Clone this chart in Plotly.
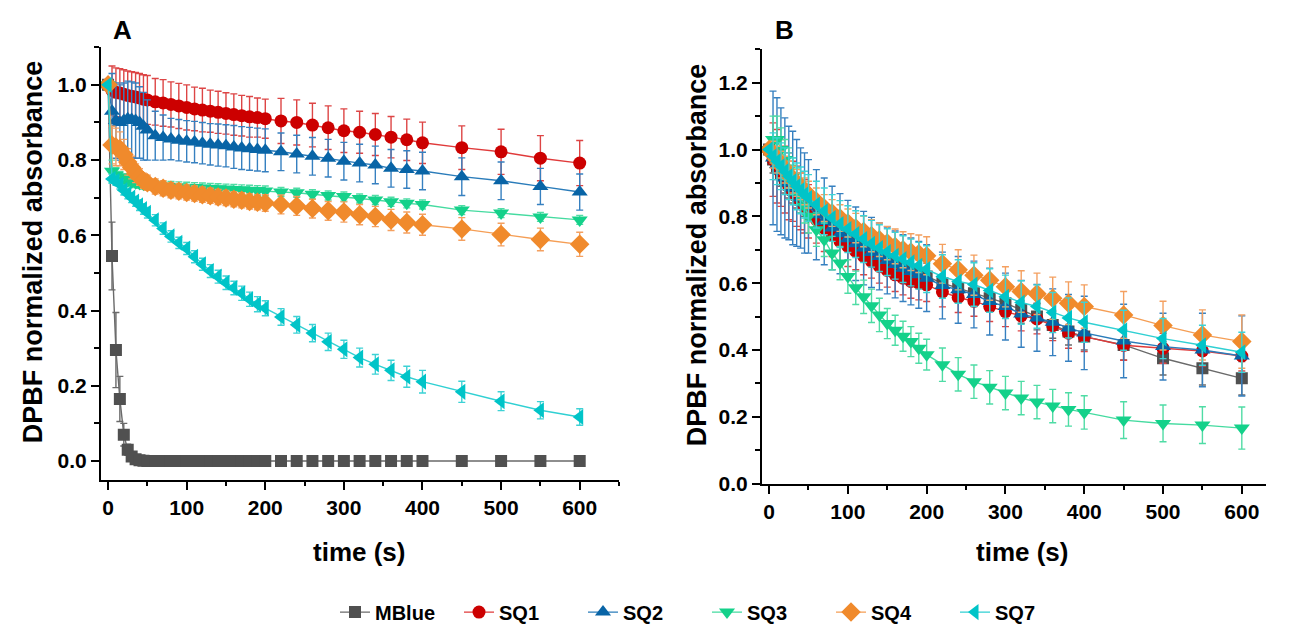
import plotly.graph_objects as go

# ---------------- data ----------------
time_s = [0, 5, 10, 15, 20, 25, 30, 35, 40, 45, 50, 60, 70, 80, 90, 100, 110, 120, 130, 140,
          150, 160, 170, 180, 190, 200, 220, 240, 260, 280, 300, 320, 340, 360, 380, 400,
          450, 500, 550, 600]

series_names = ["MBlue", "SQ1", "SQ2", "SQ3", "SQ4", "SQ7"]

# Panel A
mblue_A = [1.0, 0.545, 0.295, 0.165, 0.07, 0.03, 0.012, 0.005, 0.002, 0.001, 0.0,
           0.0, 0.0, 0.0, 0.0, 0.0, 0.0, 0.0, 0.0, 0.0, 0.0, 0.0, 0.0, 0.0, 0.0, 0.0,
           0.0, 0.0, 0.0, 0.0, 0.0, 0.0, 0.0, 0.0, 0.0, 0.0, 0.0, 0.0, 0.0, 0.0]
mblue_A_err = [0.0, 0.09, 0.1, 0.06, 0.03, 0.015, 0.006, 0.003, 0.001, 0.0, 0.0,
               0.0, 0.0, 0.0, 0.0, 0.0, 0.0, 0.0, 0.0, 0.0, 0.0, 0.0, 0.0, 0.0, 0.0, 0.0,
               0.0, 0.0, 0.0, 0.0, 0.0, 0.0, 0.0, 0.0, 0.0, 0.0, 0.0, 0.0, 0.0, 0.0]
sq1_A = [1.0, 0.985, 0.98, 0.978, 0.975, 0.972, 0.97, 0.968, 0.965, 0.962, 0.96,
         0.955, 0.952, 0.948, 0.944, 0.94, 0.936, 0.933, 0.93, 0.927, 0.924, 0.921, 0.918, 0.915, 0.913, 0.91,
         0.904, 0.9, 0.893, 0.886, 0.878, 0.874, 0.868, 0.861, 0.854, 0.846,
         0.833, 0.822, 0.805, 0.792]
sq1_A_err = [0.0, 0.065, 0.065, 0.065, 0.065, 0.065, 0.065, 0.065, 0.065, 0.065, 0.065,
             0.062, 0.062, 0.06, 0.06, 0.06, 0.058, 0.058, 0.056, 0.056, 0.055, 0.055, 0.054, 0.054, 0.052, 0.052,
             0.06, 0.06, 0.058, 0.058, 0.058, 0.056, 0.056, 0.055, 0.055, 0.055,
             0.058, 0.06, 0.06, 0.06]
sq2_A = [1.0, 0.93, 0.905, 0.9, 0.905, 0.91, 0.908, 0.905, 0.9, 0.89, 0.88,
         0.865, 0.86, 0.856, 0.853, 0.85, 0.848, 0.845, 0.842, 0.84, 0.838, 0.835, 0.832, 0.83, 0.828, 0.826,
         0.822, 0.816, 0.81, 0.805, 0.797, 0.792, 0.787, 0.778, 0.775, 0.771,
         0.756, 0.745, 0.73, 0.715]
sq2_A_err = [0.0, 0.1, 0.1, 0.1, 0.1, 0.1, 0.1, 0.1, 0.095, 0.09, 0.08,
             0.065, 0.06, 0.055, 0.055, 0.055, 0.055, 0.055, 0.055, 0.056, 0.056, 0.057, 0.057, 0.057, 0.057, 0.057,
             0.05, 0.05, 0.05, 0.05, 0.05, 0.05, 0.05, 0.05, 0.05, 0.05,
             0.05, 0.05, 0.048, 0.048]
sq3_A = [1.0, 0.77, 0.76, 0.755, 0.75, 0.745, 0.742, 0.74, 0.738, 0.736, 0.735,
         0.733, 0.731, 0.73, 0.729, 0.728, 0.727, 0.726, 0.725, 0.724, 0.723, 0.722, 0.721, 0.72, 0.719, 0.718,
         0.715, 0.713, 0.709, 0.706, 0.703, 0.698, 0.694, 0.689, 0.685, 0.682,
         0.667, 0.659, 0.649, 0.641]
sq3_A_err = [0.0, 0.03, 0.02, 0.015, 0.013, 0.013, 0.013, 0.013, 0.013, 0.013, 0.013,
             0.013, 0.013, 0.013, 0.013, 0.013, 0.013, 0.013, 0.013, 0.013, 0.013, 0.013, 0.013, 0.013, 0.013, 0.013,
             0.012, 0.012, 0.012, 0.012, 0.012, 0.012, 0.012, 0.012, 0.012, 0.012,
             0.012, 0.012, 0.012, 0.012]
sq4_A = [1.0, 0.84, 0.835, 0.83, 0.815, 0.795, 0.78, 0.765, 0.755, 0.745, 0.74,
         0.73, 0.725, 0.72, 0.717, 0.714, 0.711, 0.708, 0.705, 0.702, 0.699, 0.696, 0.693, 0.69, 0.688, 0.686,
         0.682, 0.678, 0.671, 0.665, 0.662, 0.655, 0.65, 0.641, 0.634, 0.628,
         0.617, 0.602, 0.589, 0.576]
sq4_A_err = [0.0, 0.05, 0.05, 0.045, 0.04, 0.035, 0.03, 0.025, 0.022, 0.02, 0.02,
             0.02, 0.02, 0.02, 0.02, 0.02, 0.02, 0.02, 0.02, 0.02, 0.02, 0.02, 0.02, 0.02, 0.02, 0.022,
             0.025, 0.025, 0.025, 0.025, 0.027, 0.027, 0.027, 0.028, 0.028, 0.028,
             0.03, 0.03, 0.03, 0.032]
sq7_A = [1.0, 0.75, 0.745, 0.735, 0.72, 0.71, 0.70, 0.69, 0.68, 0.67, 0.66,
         0.64, 0.618, 0.597, 0.58, 0.565, 0.543, 0.523, 0.505, 0.49, 0.474, 0.46, 0.446, 0.43, 0.417, 0.406,
         0.383, 0.362, 0.34, 0.317, 0.297, 0.275, 0.257, 0.241, 0.224, 0.211,
         0.184, 0.159, 0.135, 0.117]
sq7_A_err = [0.0, 0.012, 0.012, 0.012, 0.013, 0.013, 0.013, 0.013, 0.014, 0.014, 0.014,
             0.015, 0.015, 0.015, 0.015, 0.016, 0.016, 0.016, 0.017, 0.017, 0.018, 0.018, 0.019, 0.019, 0.02, 0.02,
             0.022, 0.022, 0.023, 0.023, 0.024, 0.025, 0.026, 0.027, 0.028, 0.03,
             0.028, 0.025, 0.023, 0.022]

# Panel B
mblue_B = [1.0, 0.97, 0.95, 0.93, 0.91, 0.895, 0.88, 0.865, 0.85, 0.84, 0.83,
           0.81, 0.79, 0.77, 0.755, 0.74, 0.725, 0.71, 0.695, 0.683, 0.672, 0.661, 0.65, 0.64, 0.63, 0.62,
           0.6, 0.585, 0.57, 0.555, 0.54, 0.52, 0.5, 0.475, 0.455, 0.44,
           0.415, 0.375, 0.345, 0.315]
mblue_B_err = [0.0, 0.04, 0.04, 0.04, 0.04, 0.04, 0.04, 0.04, 0.04, 0.04, 0.04,
               0.04, 0.04, 0.04, 0.04, 0.04, 0.04, 0.04, 0.04, 0.04, 0.04, 0.04, 0.04, 0.04, 0.04, 0.04,
               0.04, 0.04, 0.04, 0.04, 0.04, 0.04, 0.04, 0.04, 0.04, 0.04,
               0.045, 0.05, 0.05, 0.05]
sq1_B = [1.0, 0.97, 0.95, 0.93, 0.91, 0.89, 0.875, 0.86, 0.845, 0.83, 0.815,
         0.79, 0.765, 0.745, 0.725, 0.71, 0.695, 0.68, 0.665, 0.65, 0.638, 0.625, 0.615, 0.605, 0.6, 0.595,
         0.574, 0.557, 0.546, 0.53, 0.515, 0.502, 0.493, 0.473, 0.45, 0.44,
         0.414, 0.405, 0.397, 0.382]
sq1_B_err = [0.0, 0.11, 0.11, 0.1, 0.1, 0.1, 0.09, 0.09, 0.085, 0.08, 0.08,
             0.07, 0.07, 0.065, 0.06, 0.06, 0.055, 0.055, 0.05, 0.05, 0.05, 0.05, 0.05, 0.05, 0.05, 0.05,
             0.045, 0.045, 0.045, 0.045, 0.045, 0.045, 0.045, 0.045, 0.045, 0.045,
             0.045, 0.045, 0.045, 0.045]
sq2_B = [1.0, 0.975, 0.955, 0.935, 0.915, 0.9, 0.885, 0.87, 0.855, 0.84, 0.83,
         0.805, 0.785, 0.765, 0.748, 0.733, 0.718, 0.705, 0.692, 0.68, 0.668, 0.656, 0.645, 0.635, 0.625, 0.615,
         0.593, 0.58, 0.566, 0.545, 0.53, 0.508, 0.496, 0.483, 0.466, 0.451,
         0.427, 0.41, 0.4, 0.382]
sq2_B_err = [0.0, 0.2, 0.2, 0.19, 0.18, 0.17, 0.17, 0.16, 0.15, 0.15, 0.14,
             0.135, 0.13, 0.125, 0.12, 0.115, 0.11, 0.11, 0.105, 0.1, 0.1, 0.1, 0.1, 0.1, 0.1, 0.1,
             0.1, 0.1, 0.1, 0.1, 0.1, 0.1, 0.1, 0.1, 0.1, 0.11,
             0.11, 0.1, 0.11, 0.12]
sq3_B = [1.0, 1.03, 1.03, 1.0, 0.97, 0.945, 0.92, 0.89, 0.86, 0.83, 0.8,
         0.76, 0.73, 0.69, 0.66, 0.62, 0.586, 0.559, 0.532, 0.505, 0.479, 0.459, 0.441, 0.425, 0.405, 0.386,
         0.356, 0.327, 0.305, 0.288, 0.271, 0.256, 0.244, 0.232, 0.222, 0.213,
         0.19, 0.18, 0.175, 0.166]
sq3_B_err = [0.0, 0.07, 0.07, 0.065, 0.06, 0.06, 0.055, 0.055, 0.05, 0.05, 0.05,
             0.05, 0.05, 0.05, 0.05, 0.05, 0.05, 0.05, 0.05, 0.05, 0.045, 0.045, 0.045, 0.045, 0.045, 0.046,
             0.05, 0.05, 0.05, 0.05, 0.05, 0.05, 0.05, 0.05, 0.05, 0.05,
             0.055, 0.055, 0.055, 0.063]
sq4_B = [1.0, 0.985, 0.97, 0.955, 0.94, 0.925, 0.91, 0.9, 0.89, 0.875, 0.865,
         0.845, 0.825, 0.81, 0.795, 0.78, 0.765, 0.755, 0.742, 0.73, 0.72, 0.71, 0.70, 0.693, 0.688, 0.682,
         0.658, 0.64, 0.624, 0.609, 0.589, 0.575, 0.568, 0.555, 0.54, 0.53,
         0.505, 0.473, 0.445, 0.425]
sq4_B_err = [0.0, 0.04, 0.04, 0.04, 0.04, 0.04, 0.04, 0.04, 0.04, 0.04, 0.04,
             0.04, 0.04, 0.04, 0.04, 0.042, 0.044, 0.046, 0.048, 0.05, 0.05, 0.052, 0.054, 0.055, 0.056, 0.057,
             0.058, 0.06, 0.06, 0.06, 0.06, 0.062, 0.062, 0.063, 0.064, 0.065,
             0.07, 0.073, 0.075, 0.08]
sq7_B = [1.0, 0.98, 0.965, 0.95, 0.935, 0.92, 0.905, 0.89, 0.878, 0.865, 0.855,
         0.835, 0.815, 0.795, 0.777, 0.762, 0.747, 0.732, 0.718, 0.705, 0.693, 0.682, 0.672, 0.662, 0.652, 0.642,
         0.62, 0.605, 0.596, 0.578, 0.559, 0.542, 0.53, 0.512, 0.496, 0.483,
         0.459, 0.434, 0.414, 0.393]
sq7_B_err = [0.0, 0.07, 0.07, 0.07, 0.07, 0.07, 0.07, 0.07, 0.07, 0.07, 0.07,
             0.07, 0.07, 0.07, 0.07, 0.07, 0.07, 0.07, 0.07, 0.07, 0.07, 0.07, 0.07, 0.07, 0.07, 0.07,
             0.065, 0.065, 0.065, 0.065, 0.065, 0.065, 0.065, 0.06, 0.06, 0.06,
             0.06, 0.06, 0.06, 0.06]

x_ticks = [0, 100, 200, 300, 400, 500, 600]
y_ticks_A = [0.0, 0.2, 0.4, 0.6, 0.8, 1.0]
y_ticks_B = [0.0, 0.2, 0.4, 0.6, 0.8, 1.0, 1.2]

# ---------------- styles ----------------
marker_colors = ["#505050", "#cc0000", "#0864a6", "#14d18a", "#f08a2c", "#00c4c8"]
line_colors = ["#6a6a6a", "#e03a3a", "#2a7cba", "#45dba0", "#f59e55", "#30d0d3"]
err_colors = ["#6a6a6a", "#dd4545", "#3680c0", "#4fdca5", "#f4a060", "#3dd2d5"]
symbols = ["square", "circle", "triangle-up", "triangle-down", "diamond", "triangle-left"]
sizes = [12, 13, 14, 14, 15, 14]

panelA = [(mblue_A, mblue_A_err), (sq1_A, sq1_A_err), (sq2_A, sq2_A_err),
          (sq3_A, sq3_A_err), (sq4_A, sq4_A_err), (sq7_A, sq7_A_err)]
panelB = [(mblue_B, mblue_B_err), (sq1_B, sq1_B_err), (sq2_B, sq2_B_err),
          (sq3_B, sq3_B_err), (sq4_B, sq4_B_err), (sq7_B, sq7_B_err)]

fig = go.Figure()

for panel, (xa, ya), show in ((panelA, ("x", "y"), True), (panelB, ("x2", "y2"), False)):
    for i, (vals, errs) in enumerate(panel):
        fig.add_trace(go.Scatter(
            x=time_s, y=vals, name=series_names[i], legendgroup=series_names[i],
            showlegend=show, xaxis=xa, yaxis=ya, mode="lines+markers",
            line=dict(color=line_colors[i], width=1.4),
            marker=dict(symbol=symbols[i], size=sizes[i], color=marker_colors[i],
                        line=dict(width=0)),
            error_y=dict(type="data", array=errs, visible=True, color=err_colors[i],
                         thickness=1.4, width=3.5),
        ))

W, H = 1306, 632
def px(x): return x / W
def py(y): return 1 - y / H

FONT = "Liberation Sans, Arial, sans-serif"
tickfont = dict(family=FONT, size=21, color="black", weight="bold")

common_x = dict(showline=True, linecolor="black", linewidth=2, ticks="outside", ticklen=8,
                tickwidth=2, tickcolor="black", showgrid=False, zeroline=False,
                tickmode="array", tickvals=x_ticks, tickfont=tickfont, ticklabelstandoff=0,
                minor=dict(ticks="outside", ticklen=4, tickwidth=2, tickcolor="black", dtick=50,
                           showgrid=False),
                automargin=False)
common_y = dict(showline=True, linecolor="black", linewidth=2, ticks="outside", ticklen=8,
                tickwidth=2, tickcolor="black", showgrid=False, zeroline=False,
                tickformat=".1f", tickfont=tickfont,
                minor=dict(ticks="outside", ticklen=5, tickwidth=2, tickcolor="black", dtick=0.1,
                           showgrid=False),
                automargin=False)

fig.update_layout(
    width=W, height=H, margin=dict(l=0, r=0, t=0, b=0),
    paper_bgcolor="white", plot_bgcolor="white",
    xaxis=dict(domain=[px(101), px(619)], range=[-9, 650], anchor="y", **common_x),
    yaxis=dict(domain=[py(490.7), py(48.3)], range=[-0.05, 1.1], anchor="x",
               tickvals=y_ticks_A, **common_y),
    xaxis2=dict(domain=[px(762), px(1266)], range=[-9, 630.7], anchor="y2", **common_x),
    yaxis2=dict(domain=[py(494.5), py(50.5)], range=[0, 1.3], anchor="x2",
                tickvals=y_ticks_B, **common_y),
    legend=dict(orientation="h", x=px(707), xanchor="center", y=-0.022, yanchor="bottom",
                font=dict(family=FONT, size=20, color="black", weight="bold"),
                bgcolor="rgba(0,0,0,0)", itemwidth=30, tracegroupgap=0,
                entrywidth=79, entrywidthmode="pixels"),
    showlegend=True,
)

title_font = dict(family=FONT, size=27, color="black", weight="bold")
xtitle_font = dict(family=FONT, size=26, color="black", weight="bold")
annotations = [
    dict(text="A", x=px(122), y=py(31), font=dict(family=FONT, size=26, color="black", weight="bold")),
    dict(text="B", x=px(785), y=py(31), font=dict(family=FONT, size=26, color="black", weight="bold")),
    dict(text="DPBF normalized absorbance", x=px(33), y=py(258), textangle=-90, font=title_font),
    dict(text="DPBF normalized absorbance", x=px(697), y=py(260), textangle=-90, font=title_font),
    dict(text="time (s)", x=px(359), y=py(564), font=xtitle_font),
    dict(text="time (s)", x=px(1022), y=py(564), font=xtitle_font),
]
for a in annotations:
    a.update(xref="paper", yref="paper", showarrow=False, xanchor="center", yanchor="middle")
fig.update_layout(annotations=annotations)

fig.write_html("out.html")
